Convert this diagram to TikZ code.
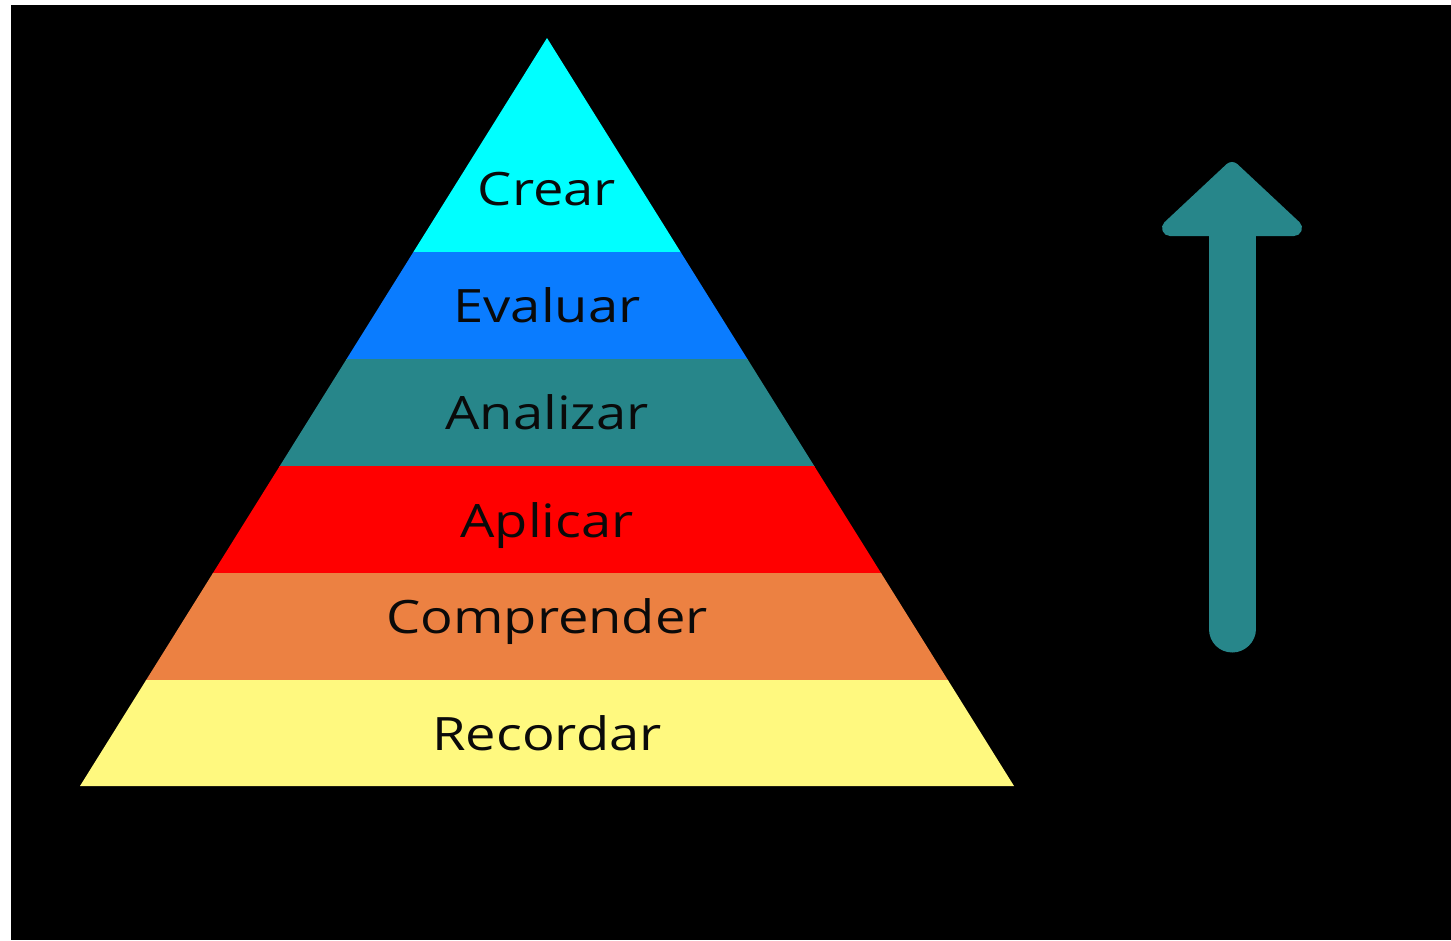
\documentclass[tikz,border=0pt]{standalone}
\usepackage{fontspec}
\setmainfont{Open Sans}
\definecolor{cCrear}{HTML}{00FFFF}
\definecolor{cEval}{HTML}{0A7CFF}
\definecolor{cAnal}{HTML}{27868A}
\definecolor{cApl}{HTML}{FF0000}
\definecolor{cComp}{HTML}{EC8142}
\definecolor{cRec}{HTML}{FFF97F}
\definecolor{cText}{HTML}{0A0A0A}
\tikzset{
  lvl/.style={anchor=base, inner sep=0pt, text=cText,
    font=\fontsize{46}{55}\selectfont},
  band/.style={fill=#1, draw=none},
  arrowteal/.style={draw=cAnal, fill=cAnal}
}
\newcommand{\wide}[1]{\scalebox{1.18}[1]{#1}}
\begin{document}
\begin{tikzpicture}[x=1pt,y=-1pt]
\useasboundingbox (0,0) rectangle (1451,940);
\fill[white] (0,0) rectangle (1451,940);
\fill[black] (11,5) rectangle (1451,940);
% pyramid
\coordinate (apex) at (547,38);
\coordinate (bl) at (80,786);
\coordinate (br) at (1014,786);
\begin{scope}
  \clip (apex) -- (br) -- (bl) -- cycle;
  \fill[band=cCrear] (0,30) rectangle (1451,252.5);
  \fill[band=cEval]  (0,252) rectangle (1451,359.5);
  \fill[band=cAnal]  (0,359) rectangle (1451,466.5);
  \fill[band=cApl]   (0,466) rectangle (1451,573.5);
  \fill[band=cComp]  (0,573) rectangle (1451,680.5);
  \fill[band=cRec]   (0,680) rectangle (1451,790);
\end{scope}
\node[lvl] (crear) at (547,205) {\wide{Crear}};
\node[lvl] (evaluar) at (547,322) {\wide{Evaluar}};
\node[lvl] (analizar) at (547,429) {\wide{Analizar}};
\node[lvl] (aplicar) at (547,537) {\wide{Aplicar}};
\node[lvl] (comprender) at (547,633) {\wide{Comprender}};
\node[lvl] (recordar) at (547,750) {\wide{Recordar}};
% arrow
\coordinate (tail) at (1232,629);
\coordinate (neck) at (1232,238);
\coordinate (tip) at (1232,170);
\coordinate (wingR) at (1294,228);
\coordinate (wingL) at (1170,228);
\draw[cAnal, line width=47pt, line cap=round] (tail) -- (neck);
\filldraw[arrowteal, line width=16pt, line join=round] (tip) -- (wingR) -- (wingL) -- cycle;
\end{tikzpicture}
\end{document}
